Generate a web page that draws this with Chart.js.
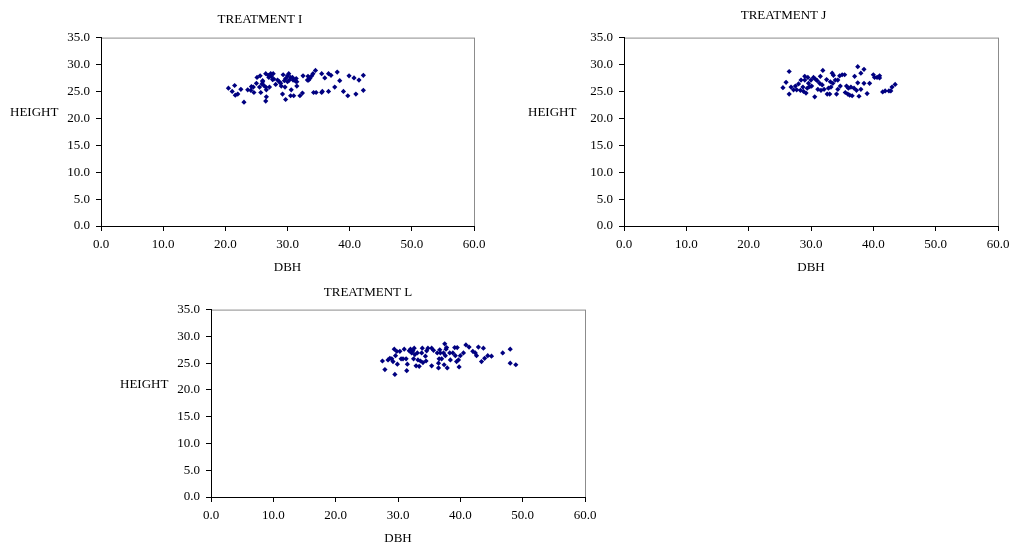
<!DOCTYPE html>
<html lang="en">
<head>
    <meta charset="UTF-8">
    <title>DBH vs Height by Treatment</title>
    <script src="https://cdn.jsdelivr.net/npm/chart.js"></script>
    <style>
        body {
            margin: 0;
            width: 1009px;
            height: 542px;
            overflow: hidden;
            background: white;
            position: relative;
            font-family: 'Liberation Serif', 'Times New Roman', serif;
        }

        .box {
            position: absolute;
        }

        .ylabel {
            position: absolute;
            font-size: 13px;
            line-height: 16px;
            color: black;
        }
    </style>
</head>
<body>

    <div class="box" style="left:0px; top:0px;"><canvas id="chartI" width="500" height="280"></canvas></div>
    <div class="box" style="left:500px; top:0px;"><canvas id="chartJ" width="509" height="280"></canvas></div>
    <div class="box" style="left:100px; top:270px;"><canvas id="chartL" width="500" height="280"></canvas></div>

    <div class="ylabel" style="left:10px; top:104px;">HEIGHT</div>
    <div class="ylabel" style="left:528px; top:104px;">HEIGHT</div>
    <div class="ylabel" style="left:120px; top:376px;">HEIGHT</div>

    <script>
        // Treatment I
        const dbhI = [20.5, 21.1, 21.5, 21.6, 22.0, 22.5, 23.0, 23.6, 24.1, 24.5, 24.6, 25.0, 25.1, 25.6, 25.5, 25.7, 26.0, 26.2, 26.5, 26.5,
            26.6, 26.6, 26.5, 27.0, 27.3, 27.1, 27.4, 27.7, 27.8, 28.4, 28.7, 28.9, 29.0, 29.3, 29.2, 29.6, 29.7, 30.0, 30.0, 29.7,
            30.2, 30.3, 30.5, 30.6, 30.5, 30.9, 31.0, 31.4, 31.5, 31.5, 32.0, 32.4, 32.5, 33.2, 33.3, 33.6, 33.9, 34.1, 34.5, 34.2,
            34.6, 35.5, 35.5, 35.6, 36.0, 36.6, 36.6, 37.0, 37.6, 38.0, 38.4, 39.0, 39.7, 39.9, 40.7, 41.0, 41.5, 42.2, 42.2,
            26.0, 27.6, 29.5, 30.8, 28.1, 25.9, 31.3, 33.4, 26.9, 24.2];
        const heightI = [25.6, 25.0, 26.1, 24.3, 24.5, 25.4, 23.0, 25.3, 25.2, 25.8, 24.8, 26.5, 27.6, 27.9, 25.8, 24.8, 26.8, 26.1, 28.3, 25.8,
            25.3, 24.0, 23.2, 27.6, 28.3, 25.8, 27.8, 28.3, 27.3, 27.1, 26.8, 26.5, 26.0, 28.1, 24.5, 25.8, 27.4, 27.9, 26.8, 23.5,
            28.3, 27.1, 27.6, 25.3, 24.2, 27.1, 24.2, 27.4, 26.8, 26.0, 24.2, 24.7, 27.9, 27.1, 27.8, 27.4, 27.9, 28.3, 28.9, 24.8,
            24.8, 28.3, 24.8, 25.0, 27.5, 28.3, 25.0, 28.0, 25.8, 28.6, 27.0, 25.0, 24.2, 27.9, 27.5, 24.5, 27.1, 28.0, 25.2,
            27.0, 27.2, 27.0, 27.6, 26.3, 26.4, 26.9, 27.1, 28.0, 25.9];

        // Treatment J
        const dbhJ = [25.5, 26.0, 26.5, 26.5, 26.8, 27.2, 27.5, 27.7, 28.0, 28.3, 28.4, 28.7, 28.8, 29.0, 29.0, 29.2, 29.4, 29.5, 29.6, 29.8,
            30.0, 30.1, 30.4, 30.6, 30.7, 31.0, 31.1, 31.4, 31.5, 31.6, 31.8, 31.9, 32.1, 32.5, 32.6, 32.8, 33.0, 33.1, 33.2, 33.4,
            33.5, 33.6, 33.9, 34.1, 34.3, 34.3, 34.6, 34.7, 35.0, 35.4, 35.5, 35.7, 35.9, 36.0, 36.2, 36.4, 36.6, 36.9, 37.0, 37.3,
            37.5, 37.5, 37.7, 38.0, 38.0, 38.5, 38.5, 39.0, 39.4, 40.0, 40.2, 40.6, 41.0, 41.0, 41.5, 41.9, 42.5, 42.8, 43.0, 43.5];
        const heightJ = [25.7, 26.7, 28.7, 24.5, 25.8, 25.3, 26.0, 25.3, 26.4, 25.2, 27.1, 25.8, 25.0, 27.8, 27.1, 24.7, 25.6, 27.6, 26.5, 25.9,
            27.1, 26.0, 27.6, 24.0, 27.3, 27.0, 25.4, 26.5, 27.8, 25.2, 26.2, 28.9, 25.4, 27.2, 24.5, 25.6, 24.5, 26.8, 25.8, 28.4,
            26.5, 28.0, 27.1, 24.5, 27.1, 25.4, 27.9, 26.0, 28.1, 28.1, 24.8, 26.0, 24.5, 25.6, 24.3, 25.8, 24.2, 25.6, 27.8, 25.2,
            29.6, 26.6, 24.1, 28.4, 25.4, 29.1, 26.5, 24.6, 26.5, 28.1, 27.6, 27.6, 27.9, 27.5, 24.9, 25.1, 25.1, 25.1, 25.8, 26.3];

        // Treatment L
        const dbhL = [27.5, 27.9, 28.4, 28.7, 29.0, 29.2, 29.4, 29.5, 29.6, 29.8, 29.9, 30.3, 30.5, 30.8, 31.0, 31.3, 31.4, 31.5, 31.8, 32.0,
            32.2, 32.4, 32.5, 32.6, 32.7, 32.9, 33.1, 33.2, 33.4, 33.6, 33.8, 33.9, 34.0, 34.4, 34.5, 34.6, 34.8, 35.4, 35.4, 35.7,
            36.3, 36.5, 36.5, 36.6, 36.7, 36.8, 37.0, 37.3, 37.4, 37.5, 37.6, 37.7, 37.8, 37.9, 38.3, 38.4, 38.8, 39.1, 39.2, 39.4,
            39.5, 39.7, 39.8, 40.0, 40.5, 40.9, 41.4, 42.0, 42.4, 42.6, 42.9, 43.4, 43.7, 43.9, 44.4, 45.0, 46.8, 48.0, 48.0, 48.9];
        const heightL = [25.4, 23.8, 25.6, 25.9, 25.8, 25.3, 27.6, 22.9, 26.4, 27.2, 24.8, 27.2, 25.8, 25.8, 27.6, 25.8, 23.6, 24.8, 27.3, 27.6,
            26.9, 27.3, 25.8, 27.8, 26.6, 24.5, 26.9, 25.6, 24.4, 25.4, 26.9, 27.8, 25.1, 26.3, 25.4, 27.3, 27.8, 27.8, 24.5, 27.4,
            26.9, 25.0, 24.1, 25.8, 27.5, 26.9, 25.8, 26.9, 24.7, 28.6, 26.4, 27.6, 27.9, 24.1, 26.9, 25.6, 26.9, 27.9, 26.4, 25.3,
            27.9, 25.6, 24.3, 26.4, 26.9, 28.4, 28.0, 27.2, 26.9, 26.4, 28.0, 25.3, 27.8, 25.9, 26.4, 26.3, 26.9, 27.6, 25.0, 24.7];

        const xRange = [0, 60, 10];   // min, max, step
        const yRange = [0, 35, 5];

        Chart.defaults.color = "#000";
        Chart.defaults.font.family = "'Liberation Serif', 'Times New Roman', serif";
        Chart.defaults.font.size = 13;

        // grey frame round the plot area (top and right edges show grey)
        const frame = {
            id: "frame",
            beforeDraw(chart) {
                const a = chart.chartArea, ctx = chart.ctx;
                ctx.save();
                ctx.strokeStyle = "#8c8c8c";
                ctx.lineWidth = 1;
                ctx.strokeRect(a.left + 0.5, a.top + 0.5, a.right - a.left, a.bottom - a.top);
                ctx.restore();
            }
        };

        function makeChart(id, title, xs, ys, lay) {
            const points = xs.map((x, i) => ({ x: x, y: ys[i] }));
            return new Chart(document.getElementById(id), {
                type: "scatter",
                data: {
                    datasets: [{
                        data: points,
                        pointStyle: "rectRot",
                        pointRadius: 2.6,
                        backgroundColor: "#000080",
                        borderColor: "#000080",
                        borderWidth: 0
                    }]
                },
                options: {
                    responsive: false,
                    animation: false,
                    devicePixelRatio: 1,
                    layout: { padding: { left: lay.left, right: lay.right, top: 0, bottom: lay.bottom } },
                    plugins: {
                        legend: { display: false },
                        tooltip: { enabled: false },
                        title: {
                            display: true,
                            text: title,
                            font: { size: 13, weight: "normal" },
                            padding: { top: lay.tTop, bottom: lay.tBottom }
                        }
                    },
                    scales: {
                        x: {
                            type: "linear",
                            position: "bottom",
                            min: xRange[0], max: xRange[1],
                            ticks: { stepSize: xRange[2], padding: 6, callback: v => v.toFixed(1), maxRotation: 0 },
                            grid: { drawOnChartArea: false, drawTicks: true, tickLength: 5, color: "#000" },
                            border: { color: "#000", width: 1 },
                            title: { display: true, text: "DBH", padding: 0 },
                            afterFit(s) { s.height = 49; s.paddingLeft = 0; s.paddingRight = 0; }
                        },
                        y: {
                            min: yRange[0], max: yRange[1],
                            ticks: { stepSize: yRange[2], padding: 6, callback: v => v.toFixed(1) },
                            grid: { drawOnChartArea: false, drawTicks: true, tickLength: 5, color: "#000" },
                            border: { color: "#000", width: 1 },
                            afterFit(s) { s.width = lay.yw; s.paddingTop = 0; s.paddingBottom = 0; }
                        }
                    }
                },
                plugins: [frame]
            });
        }

        makeChart("chartI", "TREATMENT I", dbhI, heightI, { left: 46, right: 26, bottom: 5, yw: 55, tTop: 12, tBottom: 10 });
        makeChart("chartJ", "TREATMENT J", dbhJ, heightJ, { left: 69, right: 11, bottom: 5, yw: 55, tTop: 8, tBottom: 14 });
        makeChart("chartL", "TREATMENT L", dbhL, heightL, { left: 51, right: 15, bottom: 4, yw: 60, tTop: 15, tBottom: 9 });
    </script>

</body>
</html>
